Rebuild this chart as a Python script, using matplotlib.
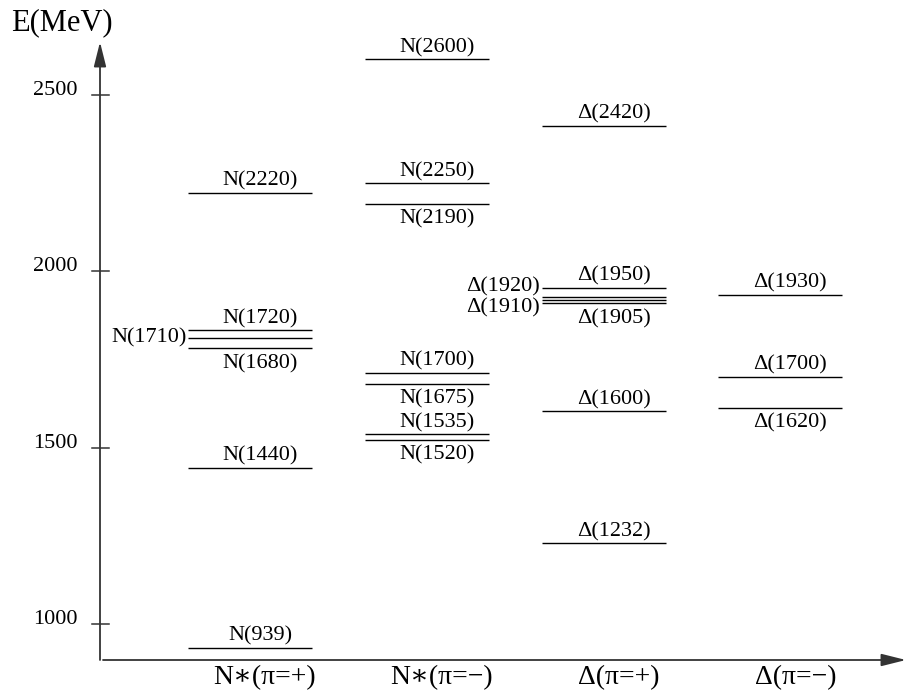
import matplotlib.pyplot as plt

plt.rcParams['font.family'] = ['Liberation Serif', 'DejaVu Serif']

# --- DATA ---
COLUMNS = ["N\u2217(\u03c0=+)", "N\u2217(\u03c0=\u2212)", "\u0394(\u03c0=+)", "\u0394(\u03c0=\u2212)"]

N_PLUS_NAMES = ["N(939)", "N(1440)", "N(1680)", "N(1710)", "N(1720)", "N(2220)"]
N_PLUS_E = [932, 1442, 1781, 1811, 1832, 2221]

N_MINUS_NAMES = ["N(1520)", "N(1535)", "N(1675)", "N(1700)", "N(2190)", "N(2250)", "N(2600)"]
N_MINUS_E = [1521, 1538, 1680, 1711, 2190, 2249, 2600]

D_PLUS_NAMES = ["\u0394(1232)", "\u0394(1600)", "\u0394(1905)", "\u0394(1910)",
                "\u0394(1920)", "\u0394(1950)", "\u0394(2420)"]
D_PLUS_E = [1229, 1603, 1908, 1918, 1926, 1952, 2411]

D_MINUS_NAMES = ["\u0394(1620)", "\u0394(1700)", "\u0394(1930)"]
D_MINUS_E = [1612, 1700, 1932]

Y_TICKS = [1000, 1500, 2000, 2500]

# where each label sits relative to its line
N_PLUS_POS = ["above", "above", "below", "left", "above", "above"]
N_MINUS_POS = ["below", "above", "below", "above", "below", "above", "above"]
D_PLUS_POS = ["above", "above", "below", "left", "left", "above", "above"]
D_MINUS_POS = ["below", "above", "above"]
LEFT_SHIFT = {"N(1710)": 0, "\u0394(1910)": -6, "\u0394(1920)": 7.5}

levels = [
    (N_PLUS_NAMES, N_PLUS_E, N_PLUS_POS),
    (N_MINUS_NAMES, N_MINUS_E, N_MINUS_POS),
    (D_PLUS_NAMES, D_PLUS_E, D_PLUS_POS),
    (D_MINUS_NAMES, D_MINUS_E, D_MINUS_POS),
]

# --- LAYOUT (pixel mapping of the original figure) ---
W, H = 907, 700
COL0_PX, COL_STEP = 250, 176.8
E1000_PY, PX_PER_MEV = 624, 0.353


def px2x(px):
    return (px - COL0_PX) / COL_STEP


def py2e(py):
    return 1000 + (E1000_PY - py) / PX_PER_MEV


fig = plt.figure(figsize=(W / 100, H / 100), dpi=100)
ax = fig.add_axes([0, 0, 1, 1])
ax.set_xlim(px2x(0), px2x(W))
ax.set_ylim(py2e(H), py2e(0))
ax.axis('off')

axis_col = '#333333'
y_base = py2e(660)
x_axis = px2x(100)

# axes with arrow heads
arrow = dict(arrowstyle='-|>,head_length=1.0,head_width=0.25', mutation_scale=15,
             lw=1.3, color=axis_col, shrinkA=0, shrinkB=0)
ax.annotate('', xy=(x_axis, py2e(42)), xytext=(x_axis, y_base), arrowprops=arrow)
ax.annotate('', xy=(px2x(906), y_base), xytext=(px2x(103), y_base), arrowprops=arrow)

# y ticks
for t in Y_TICKS:
    ax.plot([px2x(92), px2x(109)], [t, t], color=axis_col, lw=1.1)
    ax.text(px2x(78), t, str(t), ha='right', va='baseline', fontsize=16)

ax.text(px2x(11), py2e(30), "E(MeV)", ha='left', va='baseline', fontsize=22)

# levels
half_w = 62 / COL_STEP
lab_dx = 10 / COL_STEP
for i, (names, energies, pos) in enumerate(levels):
    ax.hlines(energies, i - half_w, i + half_w, color='black', lw=1.0)
    for name, e, p in zip(names, energies, pos):
        if p == "above":
            ax.annotate(name, (i + lab_dx, e), xytext=(0, 1.5), textcoords='offset points',
                        ha='center', va='bottom', fontsize=16)
        elif p == "below":
            ax.annotate(name, (i + lab_dx, e), xytext=(0, -4), textcoords='offset points',
                        ha='center', va='top', fontsize=16)
        else:
            ax.annotate(name, (i - half_w, e), xytext=(-1, LEFT_SHIFT[name]),
                        textcoords='offset points', ha='right', va='center', fontsize=16)

# column labels
for i, c in enumerate(COLUMNS):
    ax.text(i + 15 / COL_STEP, py2e(678), c, ha='center', va='center', fontsize=20)

fig.savefig("out.png", dpi=100)
